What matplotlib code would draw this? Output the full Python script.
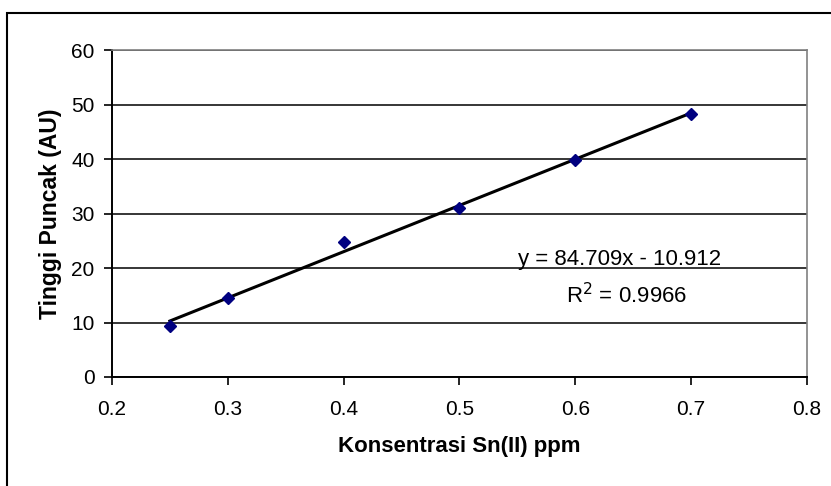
import numpy as np
import matplotlib.pyplot as plt
from matplotlib.patches import Rectangle

plt.rcParams['font.family'] = ['Liberation Sans', 'DejaVu Sans']

# Sn(II) calibration data
konsentrasi = [0.25, 0.3, 0.4, 0.5, 0.6, 0.7]
tinggi = [9.3, 14.5, 24.8, 31.1, 39.8, 48.2]
x_ticks = [0.2, 0.3, 0.4, 0.5, 0.6, 0.7, 0.8]
y_ticks = [0, 10, 20, 30, 40, 50, 60]
persamaan = "y = 84.709x - 10.912"
r2_label = "R$^2$ = 0.9966"

fig = plt.figure(figsize=(8.31, 4.86), dpi=100)
ax = fig.add_axes([0.1348, 0.2243, 0.8362, 0.6727])

# outer chart frame (right and bottom edges fall outside the image)
fig.patches.append(Rectangle((0.0084, -0.05), 1.2, 1.023, transform=fig.transFigure,
                             fill=False, edgecolor='black', linewidth=1.5))

ax.set_xlim(0.2, 0.8)
ax.set_ylim(0, 60)
ax.set_xticks(x_ticks)
ax.set_yticks(y_ticks)
ax.set_xticklabels([f"{v:g}" for v in x_ticks])
ax.yaxis.grid(True, color='black', linewidth=1.1)
ax.set_axisbelow(True)

# linear trendline
slope, intercept = np.polyfit(konsentrasi, tinggi, 1)
xs = np.array([konsentrasi[0], konsentrasi[-1]])
ax.plot(xs, slope * xs + intercept, color='black', linewidth=2.2, zorder=3)
ax.plot(konsentrasi, tinggi, linestyle='none', marker='D', markersize=6.5,
        color='#000080', zorder=4)

ax.text(0.638, 21.55, persamaan, ha='center', va='center', fontsize=16)
ax.text(0.644, 15.0, r2_label, ha='center', va='center', fontsize=16)

ax.set_xlabel('Konsentrasi Sn(II) ppm', fontsize=16, fontweight='bold', labelpad=12)
ax.set_ylabel('Tinggi Puncak (AU)', fontsize=16.5, fontweight='bold', labelpad=7)
ax.tick_params(labelsize=15, length=5.5, width=1.2, color='black', direction='out')
ax.tick_params(axis='x', pad=11)
ax.tick_params(axis='y', pad=7)

for s in ['left', 'bottom']:
    ax.spines[s].set_linewidth(1.4)
for s in ['top', 'right']:
    ax.spines[s].set_color('#808080')
    ax.spines[s].set_linewidth(1.2)

fig.savefig('out.png', dpi=100)
